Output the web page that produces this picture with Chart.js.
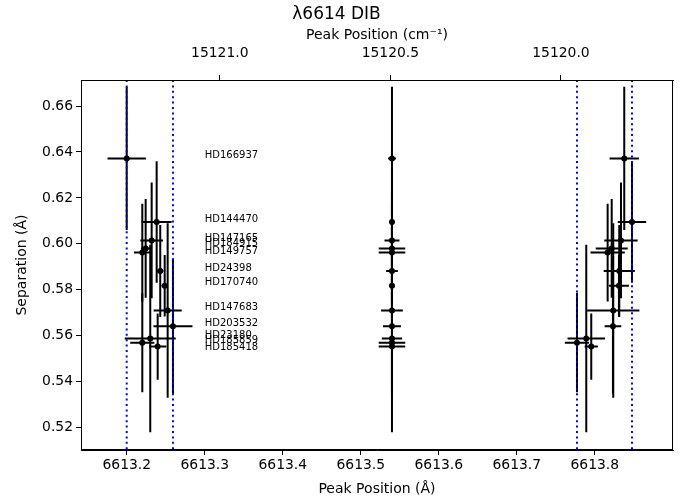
<!DOCTYPE html>
<html>
<head>
<meta charset="utf-8">
<script src="https://cdn.jsdelivr.net/npm/chart.js@4.4.1/dist/chart.umd.min.js"></script>
<style>
  html, body { margin: 0; padding: 0; background: #fff; }
  canvas { display: block; }
</style>
</head>
<body>
<canvas id="chart" width="688" height="502"></canvas>
<script>
// stars, in the order of the labels (top to bottom)
const stars = ['HD166937', 'HD144470', 'HD147165', 'HD184915', 'HD149757', 'HD24398',
               'HD170740', 'HD147683', 'HD203532', 'HD23180', 'HD185859', 'HD185418'];
// separation between the two peaks (Å) and its error
const separation = [0.6372, 0.6095, 0.6015, 0.5980, 0.5962, 0.5882,
                    0.5818, 0.5710, 0.5641, 0.5588, 0.5570, 0.5553];
const separationErr = [0.0312, 0.0264, 0.0252, 0.0215, 0.0213, 0.0200,
                       0.0134, 0.0380, 0.0294, 0.0408, 0.0216, 0.0144];
// where the star names sit (separation axis), spread a bit where they crowd
const labelSep = [0.6372, 0.6094, 0.6014, 0.5989, 0.5958, 0.5882,
                  0.5819, 0.5713, 0.5641, 0.5591, 0.5569, 0.5540];
// blue peak
const peakBlue = [6613.1999, 6613.2383, 6613.2319, 6613.2242, 6613.2199, 6613.2429,
                  6613.2486, 6613.2524, 6613.2592, 6613.2301, 6613.2199, 6613.2396];
const peakBlueErr = [0.0246, 0.0192, 0.0145, 0.0060, 0.0107, 0.0040,
                     0.0040, 0.0180, 0.0250, 0.0327, 0.0155, 0.0110];
// central position
const peakMid = [6613.540, 6613.540, 6613.540, 6613.540, 6613.540, 6613.540,
                 6613.540, 6613.540, 6613.540, 6613.540, 6613.540, 6613.540];
const peakMidErr = [0.0050, 0.0030, 0.0096, 0.0170, 0.0170, 0.0075,
                    0.0030, 0.0140, 0.0115, 0.0130, 0.0170, 0.0170];
// red peak
const peakRed = [6613.8378, 6613.8477, 6613.8336, 6613.8217, 6613.8165, 6613.8314,
                 6613.8310, 6613.8237, 6613.8233, 6613.7891, 6613.7772, 6613.7955];
const peakRedErr = [0.0188, 0.0182, 0.0214, 0.0205, 0.0220, 0.0200,
                    0.0128, 0.0335, 0.0107, 0.0240, 0.0155, 0.0085];

const xTicks = [6613.2, 6613.3, 6613.4, 6613.5, 6613.6, 6613.7, 6613.8];
const yTicks = [0.52, 0.54, 0.56, 0.58, 0.60, 0.62, 0.64, 0.66];
const topTicks = [15121.0, 15120.5, 15120.0]; // cm^-1
const labelX = 6613.3;

const xMin = 6613.1413, xMax = 6613.9003;
const yMin = 0.51027, yMax = 0.67132;

Chart.defaults.font.family = 'DejaVu Sans';
Chart.defaults.color = '#000';

function points(xs, xerr) {
  return xs.map((x, i) => ({ x: x, y: separation[i], xerr: xerr[i], yerr: separationErr[i] }));
}

// limits of the blue and red peaks -> dotted lines
const vLines = [Math.min(...peakBlue), Math.max(...peakBlue), Math.min(...peakRed), Math.max(...peakRed)];

const errorBars = {
  id: 'errorBars',
  beforeDatasetsDraw(chart) {
    const ctx = chart.ctx, a = chart.chartArea;
    const xs = chart.scales.x, ys = chart.scales.y;
    ctx.save();
    ctx.beginPath();
    ctx.rect(a.left, a.top, a.right - a.left, a.bottom - a.top);
    ctx.clip();
    ctx.strokeStyle = '#000';
    ctx.lineWidth = 2;
    chart.data.datasets.forEach(ds => {
      ds.data.forEach(p => {
        const px = xs.getPixelForValue(p.x), py = ys.getPixelForValue(p.y);
        ctx.beginPath();
        ctx.moveTo(xs.getPixelForValue(p.x - p.xerr), py);
        ctx.lineTo(xs.getPixelForValue(p.x + p.xerr), py);
        ctx.moveTo(px, ys.getPixelForValue(p.y - p.yerr));
        ctx.lineTo(px, ys.getPixelForValue(p.y + p.yerr));
        ctx.stroke();
      });
    });
    // dotted limits
    ctx.strokeStyle = '#0000ff';
    ctx.lineWidth = 2;
    ctx.setLineDash([2, 3.4]);
    vLines.forEach(v => {
      const px = xs.getPixelForValue(v);
      ctx.beginPath();
      ctx.moveTo(px, a.top);
      ctx.lineTo(px, a.bottom);
      ctx.stroke();
    });
    ctx.restore();
  },
  afterDatasetsDraw(chart) {
    const ctx = chart.ctx;
    const xs = chart.scales.x, ys = chart.scales.y;
    ctx.save();
    ctx.fillStyle = '#000';
    ctx.font = '10px "DejaVu Sans"';
    ctx.textAlign = 'left';
    ctx.textBaseline = 'alphabetic';
    stars.forEach((s, i) => {
      ctx.fillText(s, xs.getPixelForValue(labelX), ys.getPixelForValue(labelSep[i]));
    });
    ctx.restore();
  },
  afterDraw(chart) {
    const ctx = chart.ctx, a = chart.chartArea;
    ctx.save();
    ctx.strokeStyle = '#000';
    ctx.lineWidth = 1;
    ctx.strokeRect(Math.round(a.left) + 0.5, Math.round(a.top) + 0.5,
                   Math.round(a.right - a.left) - 1, Math.round(a.bottom - a.top) - 1);
    ctx.restore();
  }
};

const tickGrid = { drawOnChartArea: false, drawTicks: true, tickLength: 5, tickColor: '#000', tickWidth: 1 };

new Chart(document.getElementById('chart'), {
  type: 'scatter',
  data: {
    datasets: [
      { data: points(peakBlue, peakBlueErr) },
      { data: points(peakMid, peakMidErr) },
      { data: points(peakRed, peakRedErr) }
    ].map(d => Object.assign(d, {
      pointRadius: 3, pointHoverRadius: 3, pointBackgroundColor: '#000',
      pointBorderWidth: 0, showLine: false
    }))
  },
  options: {
    responsive: false,
    animation: false,
    events: [],
    layout: { padding: { left: 0, right: 15, top: 0, bottom: 0 } },
    plugins: {
      legend: { display: false },
      tooltip: { enabled: false },
      title: {
        display: true,
        text: 'λ6614 DIB',
        font: { size: 17, weight: 'normal' },
        padding: { top: 4, bottom: 0 }
      }
    },
    scales: {
      x: {
        type: 'linear', position: 'bottom', min: xMin, max: xMax,
        afterBuildTicks: s => { s.ticks = xTicks.map(v => ({ value: v })); },
        afterFit: s => { s.height = 52; },
        ticks: { autoSkip: false, maxRotation: 0, padding: 2, font: { size: 13.9 },
                 callback: v => v.toFixed(1) },
        grid: tickGrid,
        border: { color: '#000', width: 1 },
        title: { display: true, text: 'Peak Position (Å)', font: { size: 14 },
                 padding: { top: 0, bottom: 4 } }
      },
      x2: {
        type: 'linear', position: 'top', axis: 'x', min: xMin, max: xMax,
        afterBuildTicks: s => { s.ticks = topTicks.map(n => ({ value: 1e8 / n })); },
        afterFit: s => { s.height = 55.6; },
        ticks: { autoSkip: false, maxRotation: 0, padding: 13, font: { size: 13.9 },
                 callback: (v, i) => topTicks[i].toFixed(1) },
        grid: tickGrid,
        border: { color: '#000', width: 1 },
        title: { display: true, text: 'Peak Position (cm⁻¹)', font: { size: 14 },
                 padding: { top: 3, bottom: 0 } }
      },
      y: {
        type: 'linear', position: 'left', min: yMin, max: yMax,
        afterBuildTicks: s => { s.ticks = yTicks.map(v => ({ value: v })); },
        afterFit: s => { s.width = 81; },
        ticks: { autoSkip: false, padding: 3, font: { size: 13.9 },
                 callback: v => v.toFixed(2) },
        grid: tickGrid,
        border: { color: '#000', width: 1 },
        title: { display: true, text: 'Separation (Å)', font: { size: 14 },
                 padding: { top: 14, bottom: 0 } }
      }
    }
  },
  plugins: [errorBars]
});
</script>
</body>
</html>
